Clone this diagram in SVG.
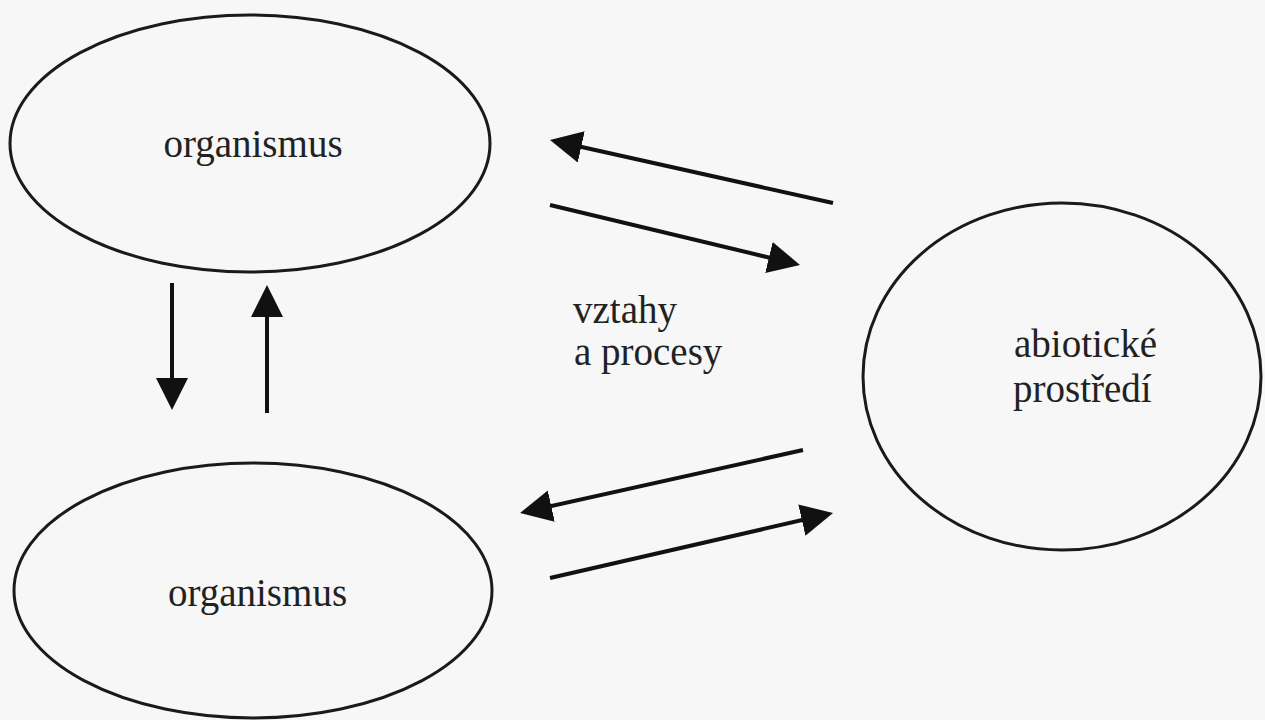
<svg xmlns="http://www.w3.org/2000/svg" width="1265" height="720" viewBox="0 0 1265 720">
  <style>
    .node { fill: none; stroke: #1a1a1a; stroke-width: 3; }
    .label { font-family: "Liberation Serif", "Times New Roman", serif; font-size: 39px; fill: #222; }
    .conn { stroke: #111; stroke-width: 4; fill: none; marker-end: url(#head); }
  </style>
  <defs>
    <marker id="head" markerUnits="userSpaceOnUse" markerWidth="32" markerHeight="32" refX="26" refY="16" orient="auto">
      <path d="M0,0 L32,16 L0,32 Z" fill="#111"/>
    </marker>
  </defs>
  <rect x="0" y="0" width="1265" height="720" fill="#f6f7f6"/>

  <g id="organismus-top">
    <ellipse class="node" cx="250" cy="143.5" rx="240" ry="128.5"/>
    <text class="label" x="253" y="157" text-anchor="middle">organismus</text>
  </g>

  <g id="organismus-bottom">
    <ellipse class="node" cx="253" cy="590.5" rx="239" ry="127.5"/>
    <text class="label" x="257.5" y="606" text-anchor="middle">organismus</text>
  </g>

  <g id="abioticke-prostredi">
    <ellipse class="node" cx="1062" cy="376.5" rx="199" ry="173.5"/>
    <text class="label" x="1014" y="357">abiotické</text>
    <text class="label" x="1013" y="402">prostředí</text>
  </g>

  <g id="vztahy-a-procesy">
    <text class="label" x="573" y="323">vztahy</text>
    <text class="label" x="574" y="365">a procesy</text>
  </g>

  <g id="connectors">
    <line class="conn" x1="833" y1="203" x2="555.9" y2="141.3"/>
    <line class="conn" x1="550" y1="205" x2="794.2" y2="263.6"/>
    <line class="conn" x1="803" y1="450" x2="525.9" y2="511.7"/>
    <line class="conn" x1="550" y1="578" x2="827.2" y2="514.3"/>
    <line class="conn" x1="172" y1="283" x2="172" y2="404"/>
    <line class="conn" x1="267" y1="413" x2="267" y2="291"/>
  </g>
</svg>
